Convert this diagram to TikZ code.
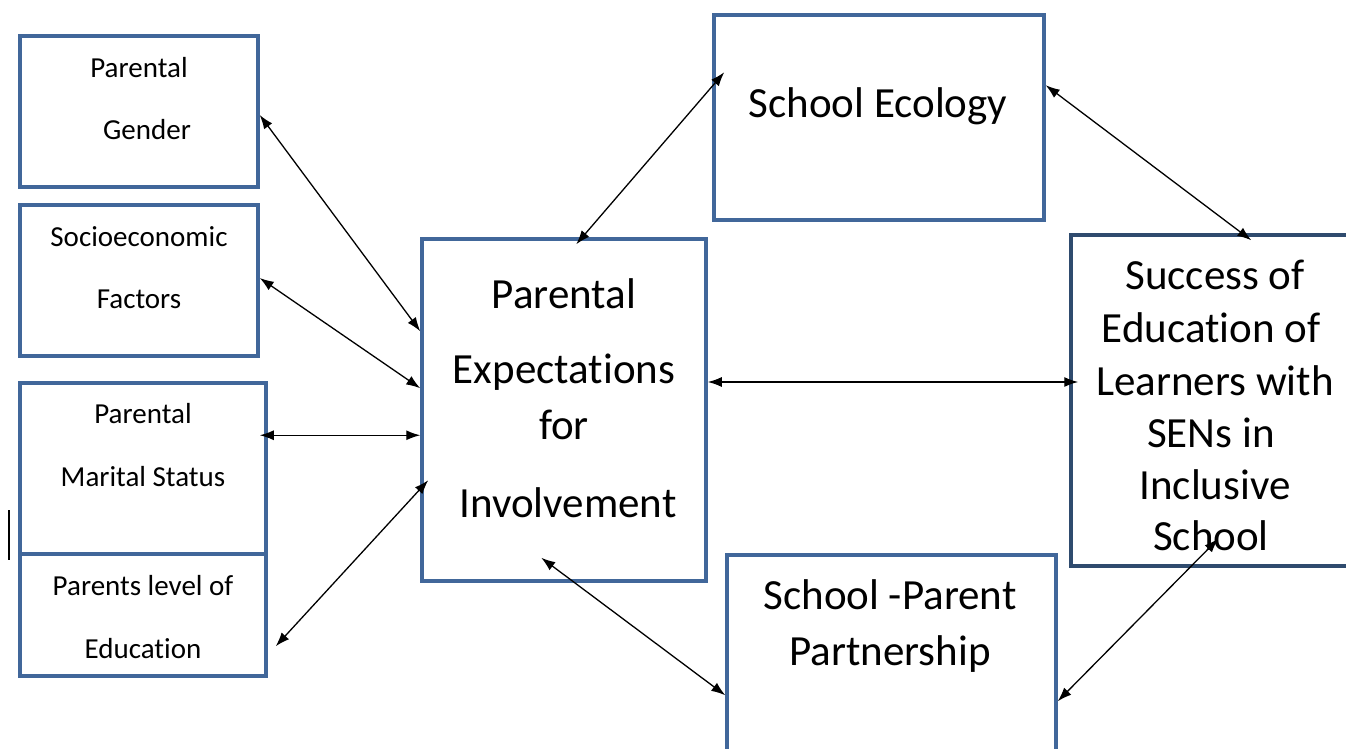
\documentclass[tikz,border=0pt]{standalone}
\usepackage{fontspec}
\setmainfont[Ligatures=CommonOff]{Carlito}
\usetikzlibrary{arrows.meta,calc}
\definecolor{boxblue}{RGB}{65,103,154}
\definecolor{darkblue}{RGB}{47,75,110}
\tikzset{
  box/.style={draw=boxblue,line width=3.5pt,inner sep=0pt,fill=none},
  small/.style={font=\fontsize{29}{29}\selectfont,inner sep=0pt,anchor=center},
  big/.style={font=\fontsize{43}{43}\selectfont,inner sep=0pt,anchor=center},
  link/.style={line width=1.3pt,{Latex[length=14pt,width=10pt]}-{Latex[length=14pt,width=10pt]}}
}
\begin{document}
\begin{tikzpicture}[x=1pt,y=-1pt]
\useasboundingbox (0,0) rectangle (1346,749);
% boxes
\node[box,minimum width=238pt,minimum height=151pt] (gender) at (139,111.5) {};
\node[box,minimum width=238pt,minimum height=151pt] (socio) at (139,280.5) {};
\node[box,minimum width=246pt,minimum height=171pt] (marital) at (143,468.5) {};
\node[box,minimum width=246pt,minimum height=122pt] (educ) at (143,615) {};
\node[box,minimum width=284pt,minimum height=342pt] (pei) at (564,410) {};
\node[box,minimum width=330pt,minimum height=205pt] (eco) at (879,117.5) {};
\node[box,draw=darkblue,minimum width=281pt,minimum height=331pt] (success) at (1211.5,400.5) {};
\node[box,minimum width=329pt,minimum height=205pt] (partner) at (891.5,657.5) {};
% texts
\node[small] (t1) at (139,68) {Parental};
\node[small] (t2) at (147,130) {Gender};
\node[small] (t3) at (139,237) {Socioeconomic};
\node[small] (t4) at (139,299) {Factors};
\node[small] (t5) at (143,414) {Parental};
\node[small] (t6) at (143,477) {Marital Status};
\node[small] (t7) at (143,586) {Parents level of};
\node[small] (t8) at (143,649) {Education};
\node[big] (p1) at (564,294) {Parental};
\node[big] (p2) at (564,372) {Expectations};
\node[big] (p3) at (564,425) {for};
\node[big] (p4) at (568,503) {Involvement};
\node[big] (e1) at (878,106) {School Ecology};
\node[big] (s1) at (1215,275) {Success of};
\node[big] (s2) at (1211,328) {Education of};
\node[big] (s3) at (1215,381) {Learners with};
\node[big] (s4) at (1211,433) {SENs in};
\node[big] (s5) at (1215,485) {Inclusive};
\node[big] (s6) at (1211,536) {School};
\node[big] (q1) at (890,595) {School -Parent};
\node[big] (q2) at (890,654) {Partnership};
% stray mark
\draw[line width=1.5pt] (9,510) -- (9,560);
% connectors
\draw[link] ($(gender.east)+(0,3.5)$) -- ($(pei.north west)+(0,94)$);
\draw[link] ($(socio.east)+(0,-2.5)$) -- ($(pei.north west)+(0,151)$);
\draw[link] ($(marital.north east)+(-8,54)$) -- ($(pei.north west)+(0,198)$);
\draw[link] ($(educ.north east)+(8,94)$) -- ($(pei.north west)+(8,243)$);
\draw[link] ($(pei.north west)+(156,7)$) -- ($(eco.north west)+(12,59)$);
\draw[link] ($(eco.north east)+(0,72)$) -- ($(success.north west)+(182,7)$);
\draw[link] ($(pei.east)+(0,-28)$) -- ($(success.west)+(9,-18.5)$);
\draw[link] ($(pei.south west)+(121,-25)$) -- ($(partner.north west)+(0,142)$);
\draw[link] ($(partner.north east)+(0,148)$) -- ($(success.south west)+(149,-29)$);
\end{tikzpicture}
\end{document}
